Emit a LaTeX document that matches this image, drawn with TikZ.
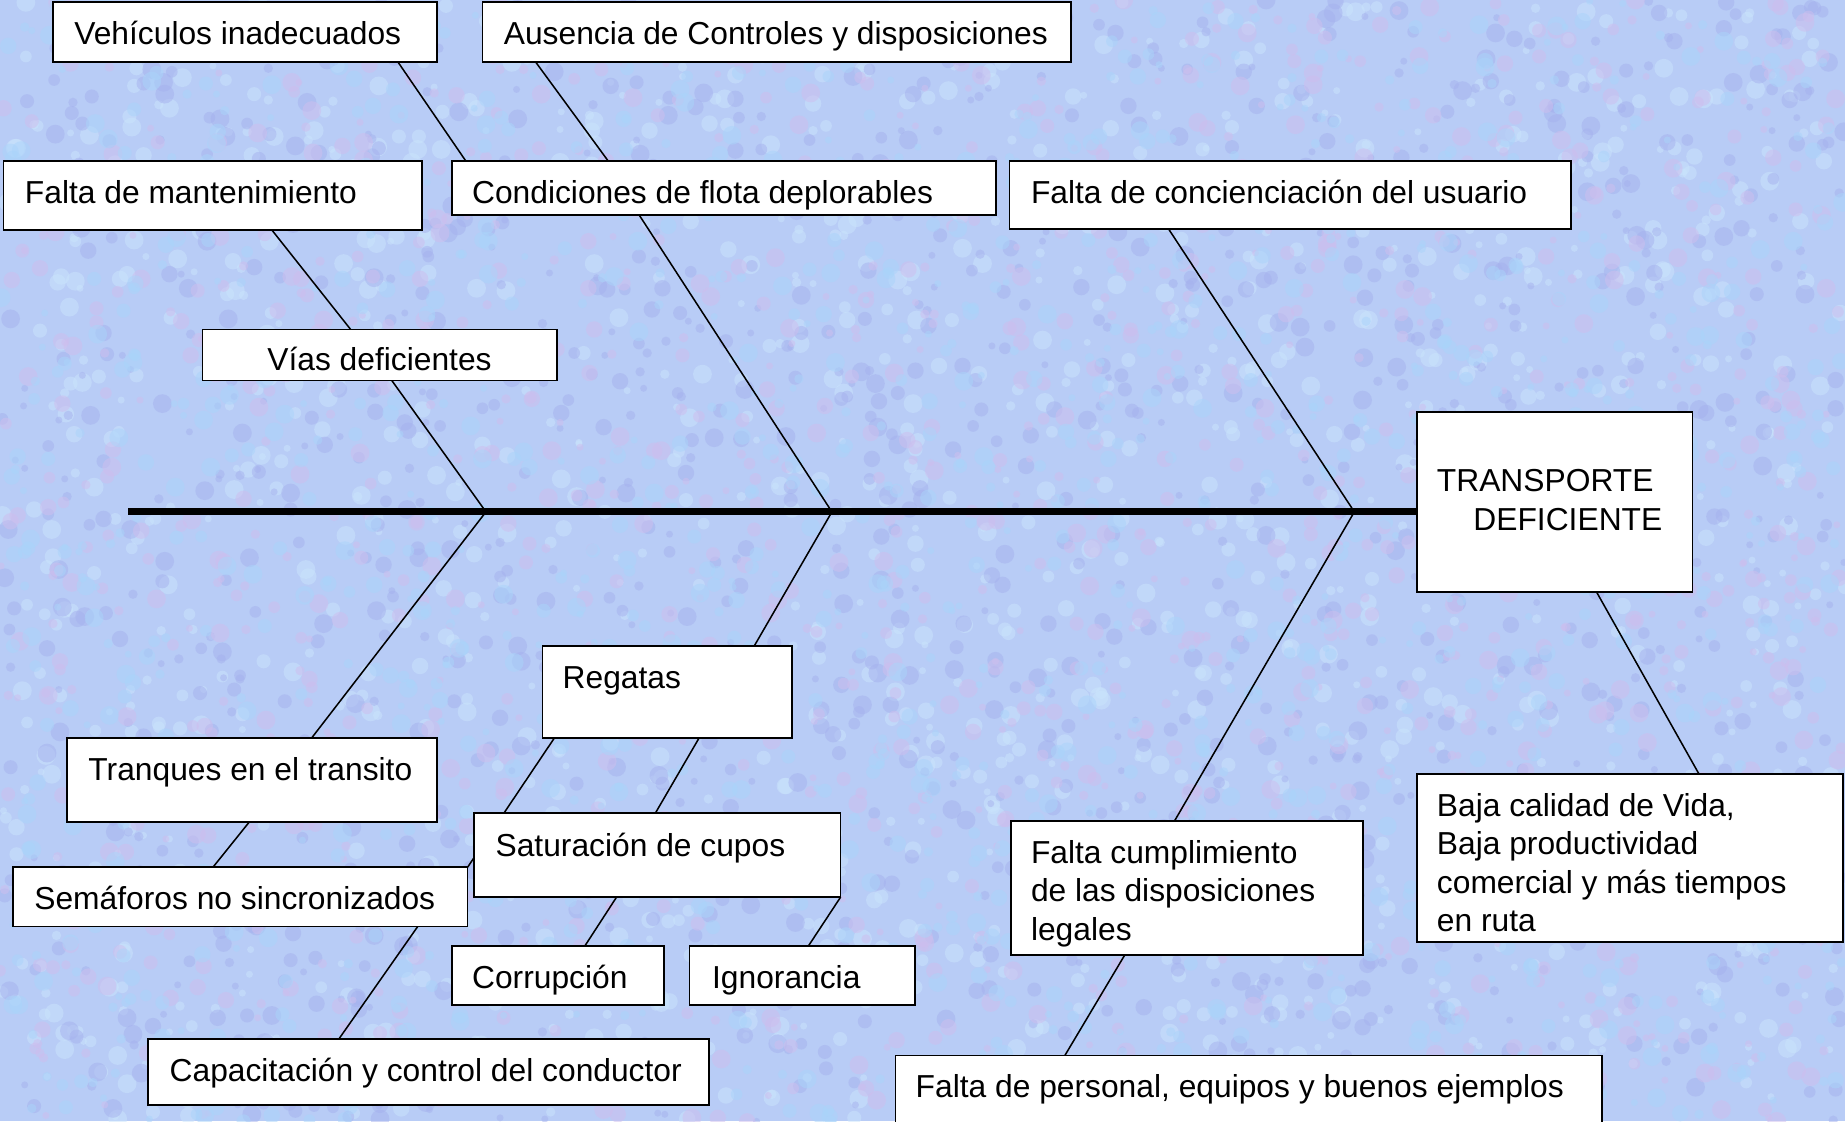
\documentclass[tikz,border=0pt]{standalone}
\usepackage{fontspec}
\setmainfont{Liberation Sans}
\definecolor{bgblue}{RGB}{184,204,246}
\definecolor{texA}{RGB}{202,228,252}
\definecolor{texB}{RGB}{166,178,238}
\definecolor{texC}{RGB}{206,190,238}
\definecolor{texD}{RGB}{170,212,250}
\tikzset{
  box/.style={rectangle, inner sep=0pt, anchor=north west},
  boxdraw/.style={draw=black, line width=1.5pt, fill=white},
  txt/.style={inner sep=0pt, font=\fontsize{27}{32.7}\selectfont, align=left},
  bone/.style={line width=1.3pt},
  spine/.style={line width=6pt}
}
\begin{document}
\begin{tikzpicture}[x=1pt,y=-1pt]
\fill[bgblue] (0,0) rectangle (1568,953);
% fine mottled background texture
\pgfmathsetseed{4711}
\begin{scope}
\clip (0,0) rectangle (1568,953);
\foreach \c in {texA,texB,texC,texD}{
  \foreach \i in {1,...,1300}{
    \pgfmathsetmacro{\px}{random(0,1568)}
    \pgfmathsetmacro{\py}{random(0,953)}
    \pgfmathsetmacro{\pr}{random(3,8)}
    \fill[\c, opacity=0.5] (\px,\py) circle[radius=\pr];
  }
}
\end{scope}
\useasboundingbox (0,0) rectangle (1568,953);
% box geometry (empty nodes; frames drawn after the lines)
\path
 (45,2)    node[box, minimum width=326, minimum height=50]  (vehi) {}
 (410,2)   node[box, minimum width=500, minimum height=50]  (aus)  {}
 (3,137)   node[box, minimum width=355, minimum height=58]  (mant) {}
 (384,137) node[box, minimum width=462, minimum height=45]  (cond) {}
 (858,137) node[box, minimum width=477, minimum height=57]  (conc) {}
 (172,280) node[box, minimum width=301, minimum height=43]  (vias) {}
 (1204,350) node[box, minimum width=234, minimum height=153] (trans) {}
 (461,549) node[box, minimum width=212, minimum height=78]  (reg)  {}
 (57,627)  node[box, minimum width=314, minimum height=71]  (tranq) {}
 (11,737)  node[box, minimum width=386, minimum height=50]  (sema) {}
 (403,691) node[box, minimum width=311, minimum height=71]  (satu) {}
 (384,804) node[box, minimum width=180, minimum height=50]  (corr) {}
 (586,804) node[box, minimum width=191, minimum height=50]  (igno) {}
 (126,883) node[box, minimum width=476, minimum height=56]  (capa) {}
 (859,698) node[box, minimum width=299, minimum height=113] (fcum) {}
 (1204,658) node[box, minimum width=362, minimum height=142] (baja) {}
 (761,897) node[box, minimum width=600, minimum height=62]  (fper) {};
% spine joints
\coordinate (j1) at (413,435);
\coordinate (j2) at (707,435);
\coordinate (j3) at (1151,435);
\coordinate (tail) at (109,435);
% spine and bones
\draw[spine] (tail) -- (trans.west |- j1);
\draw[bone] ([xshift=293]vehi.south west) -- ([xshift=12]cond.north west);
\draw[bone] ([xshift=45]aus.south west) -- ([xshift=133]cond.north west);
\draw[bone] ([xshift=228]mant.south west) -- ([xshift=126]vias.north west);
\draw[bone] ([xshift=161]vias.south west) -- (j1);
\draw[bone] ([xshift=159]cond.south west) -- (j2);
\draw[bone] ([xshift=135]conc.south west) -- (j3);
\draw[bone] (j1) -- ([xshift=208]tranq.north west);
\draw[bone] ([xshift=155]tranq.south west) -- ([xshift=170]sema.north west);
\draw[bone] (j2) -- ([xshift=180]reg.north west);
\draw[bone] ([xshift=10]reg.south west) -- (sema.north east);
\draw[bone] ([xshift=133]reg.south west) -- ([xshift=154]satu.north west);
\draw[bone] ([xshift=344]sema.south west) -- ([xshift=162]capa.north west);
\draw[bone] ([xshift=121]satu.south west) -- ([xshift=113]corr.north west);
\draw[bone] (satu.south east) -- ([xshift=101]igno.north west);
\draw[bone] (j3) -- ([xshift=139]fcum.north west);
\draw[bone] ([xshift=97]fcum.south west) -- ([xshift=144]fper.north west);
\draw[bone] ([xshift=153]trans.south west) -- ([xshift=240]baja.north west);
% box frames on top
\foreach \n in {vehi,aus,mant,cond,conc,vias,trans,reg,tranq,sema,satu,corr,igno,capa,fcum,baja,fper}
  \draw[boxdraw] (\n.north west) rectangle (\n.south east);
% texts
\node[txt, anchor=base west] at (63,38)   {Vehículos inadecuados};
\node[txt, anchor=base west] at (428,38)  {Ausencia de Controles y disposiciones};
\node[txt, anchor=base west] at (21,173)  {Falta de mantenimiento};
\node[txt, anchor=base west] at (401,173) {Condiciones de flota deplorables};
\node[txt, anchor=base west] at (876,173) {Falta de concienciación del usuario};
\node[txt, anchor=base west] at (227,315) {Vías deficientes};
\node[txt, anchor=base west] at (1221,418) {TRANSPORTE};
\node[txt, anchor=base west] at (1252,451) {DEFICIENTE};
\node[txt, anchor=base west] at (478,585) {Regatas};
\node[txt, anchor=base west] at (75,663)  {Tranques en el transito};
\node[txt, anchor=base west] at (29,773)  {Semáforos no sincronizados};
\node[txt, anchor=base west] at (421,728) {Saturación de cupos};
\node[txt, anchor=base west] at (401,840) {Corrupción};
\node[txt, anchor=base west] at (605,840) {Ignorancia};
\node[txt, anchor=base west] at (144,919) {Capacitación y control del conductor};
\node[txt, anchor=north west] at (876,714) {Falta cumplimiento\\de las disposiciones\\legales};
\node[txt, anchor=north west] at (1221,674) {Baja calidad de Vida,\\Baja productividad\\comercial y más tiempos\\en ruta};
\node[txt, anchor=base west] at (778,933) {Falta de personal, equipos y buenos ejemplos};
\end{tikzpicture}
\end{document}
